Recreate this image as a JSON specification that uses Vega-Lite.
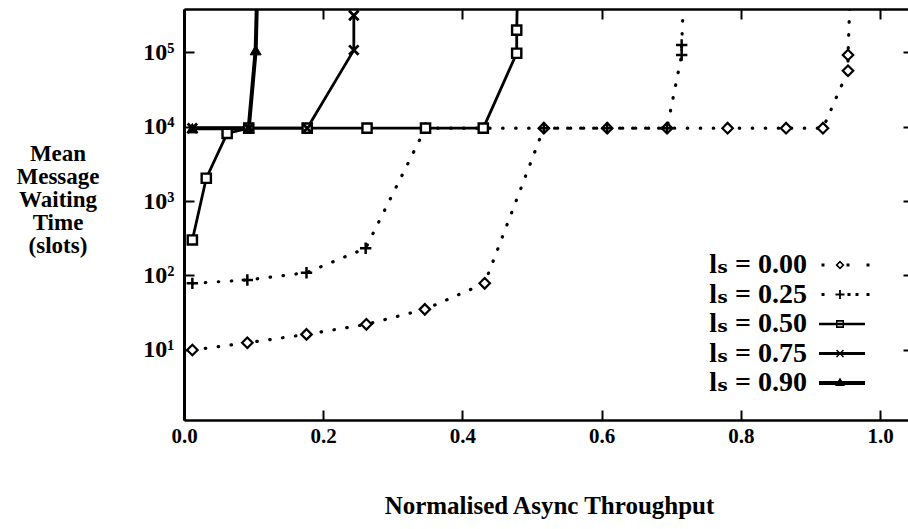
{
  "$schema": "https://vega.github.io/schema/vega-lite/v6.json",
  "autosize": {"type": "none"},
  "width": 724,
  "height": 411,
  "padding": {"left": 184, "top": 9, "right": 0, "bottom": 109},
  "background": "white",
  "config": {"view": {"stroke": null}},
  "data": {"values": [
    {"ls": "0.00", "k": 1, "x": 0.012, "y": 10},
    {"ls": "0.00", "k": 2, "x": 0.091, "y": 12.5},
    {"ls": "0.00", "k": 3, "x": 0.176, "y": 16.2},
    {"ls": "0.00", "k": 4, "x": 0.262, "y": 22.1},
    {"ls": "0.00", "k": 5, "x": 0.346, "y": 35.1},
    {"ls": "0.00", "k": 6, "x": 0.432, "y": 78.5},
    {"ls": "0.00", "k": 7, "x": 0.517, "y": 9500},
    {"ls": "0.00", "k": 8, "x": 0.608, "y": 9500},
    {"ls": "0.00", "k": 9, "x": 0.694, "y": 9500},
    {"ls": "0.00", "k": 10, "x": 0.781, "y": 9500},
    {"ls": "0.00", "k": 11, "x": 0.865, "y": 9500},
    {"ls": "0.00", "k": 12, "x": 0.918, "y": 9500},
    {"ls": "0.00", "k": 13, "x": 0.954, "y": 56100},
    {"ls": "0.00", "k": 14, "x": 0.954, "y": 91200},
    {"ls": "0.00", "k": 15, "x": 0.957, "y": 600000},
    {"ls": "0.25", "k": 1, "x": 0.012, "y": 78.5},
    {"ls": "0.25", "k": 2, "x": 0.091, "y": 87},
    {"ls": "0.25", "k": 3, "x": 0.176, "y": 109},
    {"ls": "0.25", "k": 4, "x": 0.261, "y": 232},
    {"ls": "0.25", "k": 5, "x": 0.347, "y": 9500},
    {"ls": "0.25", "k": 6, "x": 0.432, "y": 9500},
    {"ls": "0.25", "k": 7, "x": 0.517, "y": 9500},
    {"ls": "0.25", "k": 8, "x": 0.608, "y": 9500},
    {"ls": "0.25", "k": 9, "x": 0.694, "y": 9500},
    {"ls": "0.25", "k": 10, "x": 0.715, "y": 91000},
    {"ls": "0.25", "k": 11, "x": 0.715, "y": 124000},
    {"ls": "0.25", "k": 12, "x": 0.718, "y": 600000},
    {"ls": "0.50", "k": 1, "x": 0.012, "y": 300},
    {"ls": "0.50", "k": 2, "x": 0.032, "y": 2020},
    {"ls": "0.50", "k": 3, "x": 0.062, "y": 8100},
    {"ls": "0.50", "k": 4, "x": 0.093, "y": 9500},
    {"ls": "0.50", "k": 5, "x": 0.177, "y": 9500},
    {"ls": "0.50", "k": 6, "x": 0.263, "y": 9500},
    {"ls": "0.50", "k": 7, "x": 0.347, "y": 9500},
    {"ls": "0.50", "k": 8, "x": 0.430, "y": 9500},
    {"ls": "0.50", "k": 9, "x": 0.478, "y": 96200},
    {"ls": "0.50", "k": 10, "x": 0.478, "y": 197000},
    {"ls": "0.50", "k": 11, "x": 0.479, "y": 600000},
    {"ls": "0.75", "k": 1, "x": 0.012, "y": 9500},
    {"ls": "0.75", "k": 2, "x": 0.093, "y": 9500},
    {"ls": "0.75", "k": 3, "x": 0.177, "y": 9500},
    {"ls": "0.75", "k": 4, "x": 0.244, "y": 106000},
    {"ls": "0.75", "k": 5, "x": 0.244, "y": 310000},
    {"ls": "0.90", "k": 1, "x": 0.012, "y": 9500},
    {"ls": "0.90", "k": 2, "x": 0.093, "y": 9500},
    {"ls": "0.90", "k": 3, "x": 0.103, "y": 106000},
    {"ls": "0.90", "k": 4, "x": 0.105, "y": 600000}
  ]},
  "resolve": {"axis": {"x": "independent", "y": "independent"}},
  "encoding": {
    "x": {"field": "x", "type": "quantitative", "scale": {"domain": [0, 1.0402], "nice": false, "zero": false}, "axis": null},
    "y": {"field": "y", "type": "quantitative", "scale": {"type": "log", "domain": [1.149, 377800], "nice": false}, "axis": null},
    "order": {"field": "k", "type": "quantitative"},
    "detail": {"field": "ls", "type": "nominal"}
  },
  "layer": [
    {
      "transform": [{"filter": "datum.ls === '0.00' || datum.ls === '0.25'"}],
      "mark": {"type": "line", "color": "black", "strokeCap": "round", "strokeJoin": "round", "strokeWidth": 3.2, "strokeDash": [0.5, 12.5], "clip": true},
      "encoding": {
        "x": {"field": "x", "type": "quantitative",
          "scale": {"domain": [0, 1.0402], "nice": false, "zero": false},
          "axis": {"orient": "bottom", "values": [0, 0.2, 0.4, 0.6, 0.8, 1.0], "format": ".1f", "grid": false,
            "domainColor": "black", "domainWidth": 2.5, "tickColor": "black", "tickWidth": 2, "tickSize": -10,
            "labelPadding": 15, "labelFont": "Liberation Serif, DejaVu Serif", "labelFontWeight": "bold", "labelFontSize": 21,
            "labelColor": "black", "labelOverlap": false, "labelFlush": false,
            "title": "Normalised Async Throughput", "titleFont": "Liberation Serif, DejaVu Serif", "titleFontWeight": "bold",
            "titleFontSize": 25, "titleColor": "black", "titleX": 365, "titleY": 93, "titleAlign": "center", "titleBaseline": "alphabetic"}},
        "y": {"field": "y", "type": "quantitative",
          "scale": {"type": "log", "domain": [1.149, 377800], "nice": false},
          "axis": {"orient": "left", "values": [10, 100, 1000, 10000, 100000], "grid": false,
            "labelExpr": "'10' + ['⁰','¹','²','³','⁴','⁵'][round(log(datum.value)/LN10)]",
            "domainColor": "black", "domainWidth": 3, "tickColor": "black", "tickWidth": 2, "tickSize": -10,
            "labelPadding": 20, "labelFont": "Liberation Serif, DejaVu Serif", "labelFontWeight": "bold", "labelFontSize": 24,
            "labelColor": "black", "labelOverlap": false, "labelFlush": false,
            "title": ["Mean", "Message", "Waiting", "Time", "(slots)"], "titleFont": "Liberation Serif, DejaVu Serif",
            "titleFontWeight": "bold", "titleFontSize": 23, "titleColor": "black", "titleAngle": 0,
            "titleX": -126.5, "titleY": 151, "titleAlign": "center", "titleBaseline": "alphabetic", "titleLineHeight": 23}}
      }
    },
    {
      "transform": [{"filter": "datum.ls === '0.50' || datum.ls === '0.75'"}],
      "mark": {"type": "line", "color": "black", "strokeCap": "round", "strokeJoin": "round", "strokeWidth": 2.8, "clip": true},
      "encoding": {
        "x": {"field": "x", "type": "quantitative",
          "scale": {"domain": [0, 1.0402], "nice": false, "zero": false},
          "axis": {"orient": "top", "values": [0, 0.2, 0.4, 0.6, 0.8, 1.0], "labels": false, "title": null, "grid": false,
            "domainColor": "black", "domainWidth": 2.5, "tickColor": "black", "tickWidth": 2, "tickSize": -10}},
        "y": {"field": "y", "type": "quantitative",
          "scale": {"type": "log", "domain": [1.149, 377800], "nice": false},
          "axis": {"orient": "right", "values": [10, 100, 1000, 10000, 100000], "labels": false, "title": null, "grid": false,
            "domain": false, "tickColor": "black", "tickWidth": 2, "tickSize": -5}}
      }
    },
    {
      "transform": [{"filter": "datum.ls === '0.90'"}],
      "mark": {"type": "line", "color": "black", "strokeCap": "round", "strokeJoin": "round", "strokeWidth": 4, "clip": true}
    },
    {
      "transform": [{"filter": "datum.ls === '0.00'"}],
      "mark": {"type": "point", "shape": "diamond", "stroke": "black", "fill": "white", "strokeWidth": 2.2, "size": 110, "opacity": 1, "clip": true}
    },
    {
      "transform": [{"filter": "datum.ls === '0.25'"}],
      "mark": {"type": "point", "shape": "M-1,0H1M0,-1V1", "stroke": "black", "strokeWidth": 2.5, "size": 130, "opacity": 1, "clip": true}
    },
    {
      "transform": [{"filter": "datum.ls === '0.50'"}],
      "mark": {"type": "point", "shape": "square", "stroke": "black", "fill": "white", "strokeWidth": 2.4, "size": 85, "opacity": 1, "clip": true}
    },
    {
      "transform": [{"filter": "datum.ls === '0.75'"}],
      "mark": {"type": "point", "shape": "M-1,-1L1,1M1,-1L-1,1", "stroke": "black", "strokeWidth": 2.8, "size": 90, "opacity": 1, "clip": true}
    },
    {
      "transform": [{"filter": "datum.ls === '0.90'"}],
      "mark": {"type": "point", "shape": "triangle-up", "fill": "black", "stroke": "black", "strokeWidth": 1, "size": 120, "opacity": 1, "clip": true}
    },
    {
      "mark": {"type": "point", "filled": true, "color": "black", "size": 100, "opacity": 0},
      "encoding": {
        "shape": {"field": "ls", "type": "nominal",
          "scale": {"domain": ["0.00", "0.25", "0.50", "0.75", "0.90"],
            "range": [
              "M-0.4,-0.9L0.5,0L-0.4,0.9L-1.3,0ZM-0.4,-0.45L-0.85,0L-0.4,0.45L0.05,0ZM-4.1,-0.3h0.6v0.6h-0.6ZM0.9,-0.3h0.6v0.6h-0.6ZM4.9,-0.3h0.6v0.6h-0.6Z",
              "M-1.3,-0.18H0.5V0.18H-1.3ZM-0.58,-0.9H-0.22V0.9H-0.58ZM-4.1,-0.3h0.6v0.6h-0.6ZM1.1,-0.3h0.6v0.6h-0.6ZM2.7,-0.3h0.6v0.6h-0.6ZM4.9,-0.3h0.6v0.6h-0.6Z",
              "M-4.6,-0.25H4.6V0.25H-4.6ZM-1.2,-0.8H0.4V0.8H-1.2ZM-0.9,-0.45V0.45H0.1V-0.45Z",
              "M-4.6,-0.3H4.6V0.3H-4.6ZM-1.2,-0.6L-1.0,-0.8L0.4,0.6L0.2,0.8ZM0.2,-0.8L0.4,-0.6L-1.0,0.8L-1.2,0.6Z",
              "M-4.6,-0.4H4.6V0.4H-4.6ZM-0.4,-1.1L0.6,0.6L-1.4,0.6Z"
            ]},
          "legend": {"title": null, "orient": "none", "legendX": 644, "legendY": 242, "padding": 0, "rowPadding": 1.5,
            "symbolSize": 100, "symbolOffset": 0, "labelOffset": -49, "labelAlign": "right",
            "symbolOpacity": 1, "symbolFillColor": "black", "symbolStrokeColor": "black", "symbolStrokeWidth": 0,
            "labelFont": "Liberation Serif, DejaVu Serif", "labelFontWeight": "bold", "labelFontSize": 28, "labelColor": "black",
            "labelLimit": 400, "labelExpr": "'lₛ = ' + datum.label"}}
      }
    }
  ]
}
